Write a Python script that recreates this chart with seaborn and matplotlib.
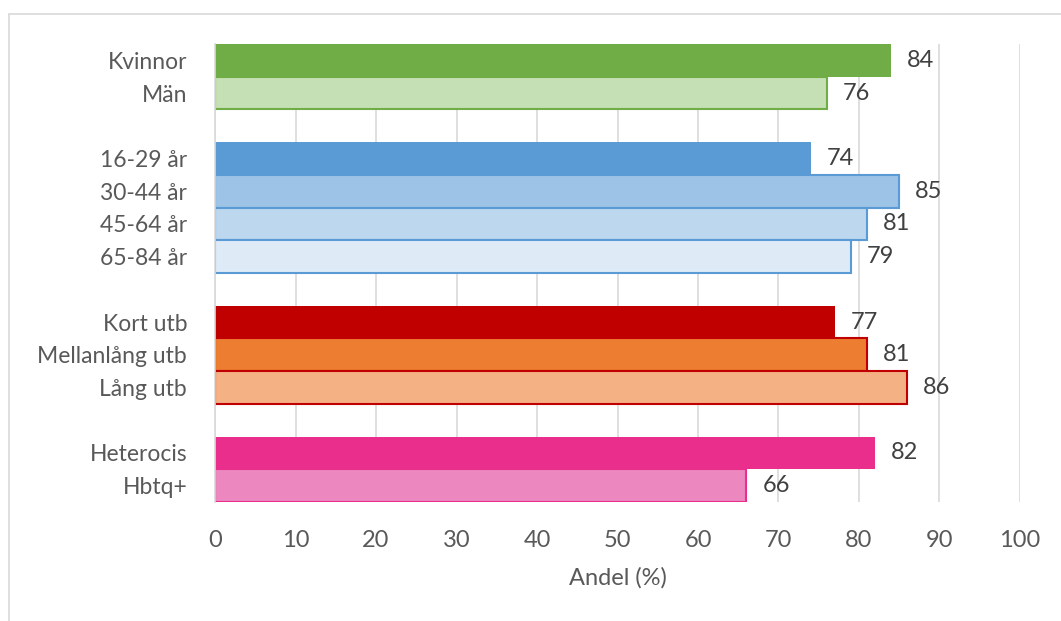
import matplotlib
matplotlib.use("Agg")
import matplotlib.pyplot as plt
from matplotlib.lines import Line2D
import seaborn as sns
import pandas as pd

# Row order, with blank spacer rows between the groups
rows = ["Kvinnor", "Män", " ",
        "16-29 år", "30-44 år", "45-64 år", "65-84 år", "  ",
        "Kort utb", "Mellanlång utb", "Lång utb", "   ",
        "Heterocis", "Hbtq+"]

categories = ["Kvinnor", "Män",
              "16-29 år", "30-44 år", "45-64 år", "65-84 år",
              "Kort utb", "Mellanlång utb", "Lång utb",
              "Heterocis", "Hbtq+"]
values = [84, 76, 74, 85, 81, 79, 77, 81, 86, 82, 66]

fill_colors = ["#70AD47", "#C5E0B4",
               "#5B9BD5", "#9DC3E6", "#BDD7EE", "#DEEBF7",
               "#C00000", "#ED7D31", "#F4B183",
               "#EA2E8B", "#EC87BF"]
edge_colors = [None, "#70AD47",
               None, "#5B9BD5", "#5B9BD5", "#5B9BD5",
               None, "#C00000", "#C00000",
               None, "#EA2E8B"]

x_ticks = [0, 10, 20, 30, 40, 50, 60, 70, 80, 90, 100]
x_label = "Andel (%)"

sns.set_theme(style="white")
plt.rcParams["font.family"] = ["Lato", "DejaVu Sans"]

df = pd.DataFrame({"grupp": categories, "andel": values})

fig = plt.figure(figsize=(10.61, 6.21), dpi=100)
ax = fig.add_axes([215 / 1061, 1 - 502 / 621, (1020 - 215) / 1061, (502 - 44) / 621])

sns.barplot(data=df, x="andel", y="grupp", hue="grupp", order=rows,
            hue_order=categories, palette=dict(zip(categories, fill_colors)),
            width=1.0, orient="h", legend=False, saturation=1.0, ax=ax)

for cont, ec, v in zip(ax.containers, edge_colors, values):
    for bar in cont:
        if ec is None:
            bar.set_linewidth(0)
        else:
            bar.set_edgecolor(ec)
            bar.set_linewidth(1.5)
    ax.bar_label(cont, labels=[f"{v}"], padding=11.5, fontsize=17,
                 color="#404040")

ax.set_xlim(0, 100)
ax.set_ylim(13.5, -0.5)
ax.set_xticks(x_ticks)
ax.set_xticklabels([str(t) for t in x_ticks])
ax.xaxis.grid(True, color="#D9D9D9", linewidth=1.2)
ax.set_axisbelow(True)
for side in ["top", "right", "bottom"]:
    ax.spines[side].set_visible(False)
ax.spines["left"].set_color("#D9D9D9")
ax.spines["left"].set_linewidth(1.2)

ax.tick_params(axis="x", length=0, pad=20, labelsize=17, labelcolor="#595959")
ax.tick_params(axis="y", length=0, pad=20, labelsize=16.5, labelcolor="#595959")
ax.set_ylabel("")
ax.set_xlabel(x_label, fontsize=17, color="#595959", labelpad=12)

# Outer chart frame
fig.add_artist(Line2D([8.5 / 1061, 8.5 / 1061], [0, 1 - 13.5 / 621],
                      transform=fig.transFigure, color="#D9D9D9", linewidth=1.2))
fig.add_artist(Line2D([8.5 / 1061, 1], [1 - 13.5 / 621, 1 - 13.5 / 621],
                      transform=fig.transFigure, color="#D9D9D9", linewidth=1.2))

fig.savefig("out.png", dpi=100)
